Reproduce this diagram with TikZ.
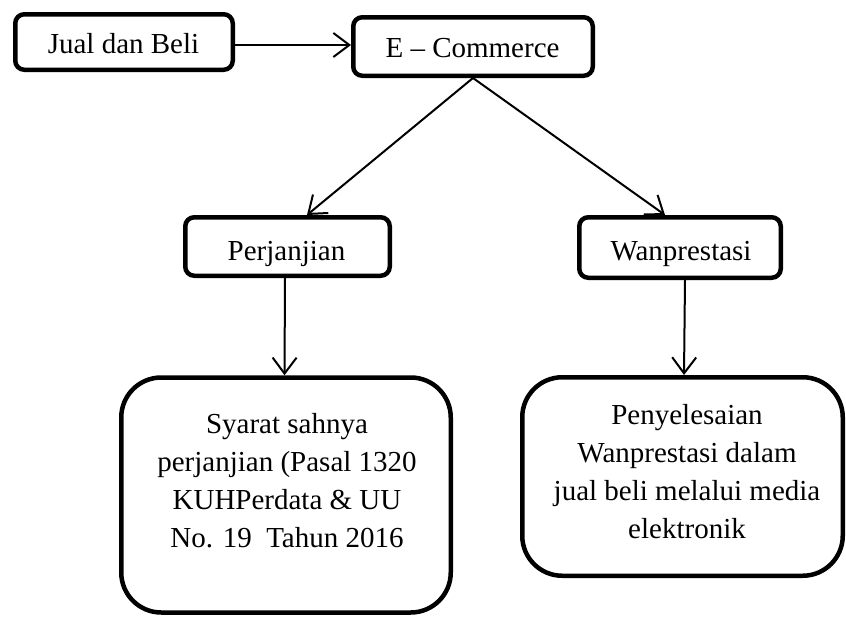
\documentclass[tikz,border=0pt]{standalone}
\usepackage{fontspec}
\setmainfont{Liberation Serif}
\usetikzlibrary{arrows.meta}
\tikzset{
  boxsmall/.style={draw=black, line width=4.5pt, rounded corners=9pt, inner sep=0pt},
  boxbig/.style={draw=black, line width=4.5pt, rounded corners=40pt, inner sep=0pt},
  lbl/.style={font=\fontsize{29}{38}\selectfont, inner sep=0pt, anchor=base},
  mlbl/.style={font=\fontsize{29}{38}\selectfont, inner sep=0pt, align=center},
  arr/.style={draw=black, line width=2pt, -{Straight Barb[length=16pt,width=24pt,line width=2pt]}}
}
\begin{document}
\begin{tikzpicture}[x=1pt,y=-1pt]
\useasboundingbox (0,0) rectangle (846,616);
% boxes
\node[boxsmall, minimum width=217.5pt, minimum height=55.5pt] (jual) at (124,42) {};
\node[boxsmall, minimum width=239.5pt, minimum height=58.5pt] (ecom) at (473,46.5) {};
\node[boxsmall, minimum width=204.5pt, minimum height=58.5pt] (perj) at (287.5,246.5) {};
\node[boxsmall, minimum width=201.5pt, minimum height=60.5pt] (wanp) at (680,247.5) {};
\node[boxbig, minimum width=329.5pt, minimum height=235pt] (syarat) at (286,495) {};
\node[boxbig, minimum width=320.5pt, minimum height=198.5pt] (peny) at (682.5,476.5) {};
% texts
\node[lbl] (tjual) at (123.5,53) {Jual dan Beli};
\node[lbl] (tecom) at (472.5,57) {E – Commerce};
\node[lbl] (tperj) at (286.5,260) {Perjanjian};
\node[lbl] (twanp) at (681,260) {Wanprestasi};
\node[mlbl] (tsyarat) at (287,481) {Syarat sahnya\\perjanjian (Pasal 1320\\KUHPerdata \& UU\\No. 19\ \ Tahun 2016};
\node[mlbl] (tpeny) at (687,472) {Penyelesaian\\Wanprestasi dalam\\jual beli melalui media\\elektronik};
% connectors
\coordinate (ya) at (0,45);
\draw[arr] (jual.east |- ya) -- (ecom.west |- ya);
\draw[arr] (ecom.south) -- ([xshift=19.5pt]perj.north);
\draw[arr] (ecom.south) -- ([xshift=-15pt]wanp.north);
\draw[arr] ([xshift=-2.5pt]perj.south) -- ([xshift=-1.5pt]syarat.north);
\draw[arr] ([xshift=5pt]wanp.south) -- ([xshift=1.5pt]peny.north);
\end{tikzpicture}
\end{document}
